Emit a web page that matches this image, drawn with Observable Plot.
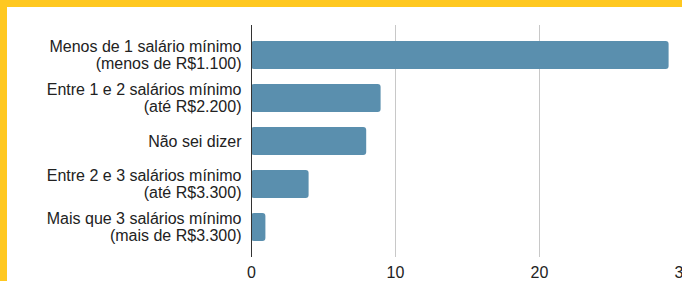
<!DOCTYPE html>
<html>
<head>
<meta charset="utf-8">
<script src="https://cdn.jsdelivr.net/npm/d3@7"></script>
<script src="https://cdn.jsdelivr.net/npm/@observablehq/plot@0.6"></script>
<style>
  html, body { margin: 0; padding: 0; background: #ffc820; overflow: hidden; width: 682px; height: 281px; }
  #chart { position: absolute; left: 7px; top: 7px; width: 676px; height: 274px; background: #fff; }
  #chart svg { display: block; overflow: visible; }
</style>
</head>
<body>
<div id="chart"></div>
<script>
const categories = [
  "Menos de 1 salário mínimo\n(menos de R$1.100)",
  "Entre 1 e 2 salários mínimo\n(até R$2.200)",
  "Não sei dizer",
  "Entre 2 e 3 salários mínimo\n(até R$3.300)",
  "Mais que 3 salários mínimo\n(mais de R$3.300)"
];
const values = [29, 9, 8, 4, 1];
const xTicks = [0, 10, 20, 30];

const data = categories.map((c, i) => ({cat: c, value: values[i]}));

const chart = Plot.plot({
  width: 676,
  height: 274,
  marginLeft: 244,
  marginRight: 0,
  marginTop: 18,
  marginBottom: 24,
  style: {fontFamily: "'Liberation Sans', Arial, sans-serif", fontSize: "16px", color: "#222", background: "transparent"},
  x: {domain: [0, 30], label: null},
  y: {domain: categories, padding: 0.35, label: null},
  marks: [
    Plot.gridX(xTicks.slice(1), {stroke: "#c8c8c8", strokeOpacity: 1}),
    Plot.barX(data, {x: "value", y: "cat", fill: "#5a8fae", rx: 3}),
    Plot.ruleX([0], {stroke: "#333", strokeWidth: 1}),
    Plot.axisX({ticks: xTicks, tickSize: 0, tickPadding: 9, fontSize: 16, fill: "#222", label: null}),
    Plot.axisY({tickSize: 0, tickPadding: 10, fontSize: 16, lineHeight: 1.05, fill: "#222", textOverflow: null, lineWidth: Infinity, label: null})
  ]
});
document.getElementById("chart").appendChild(chart);
</script>
</body>
</html>
